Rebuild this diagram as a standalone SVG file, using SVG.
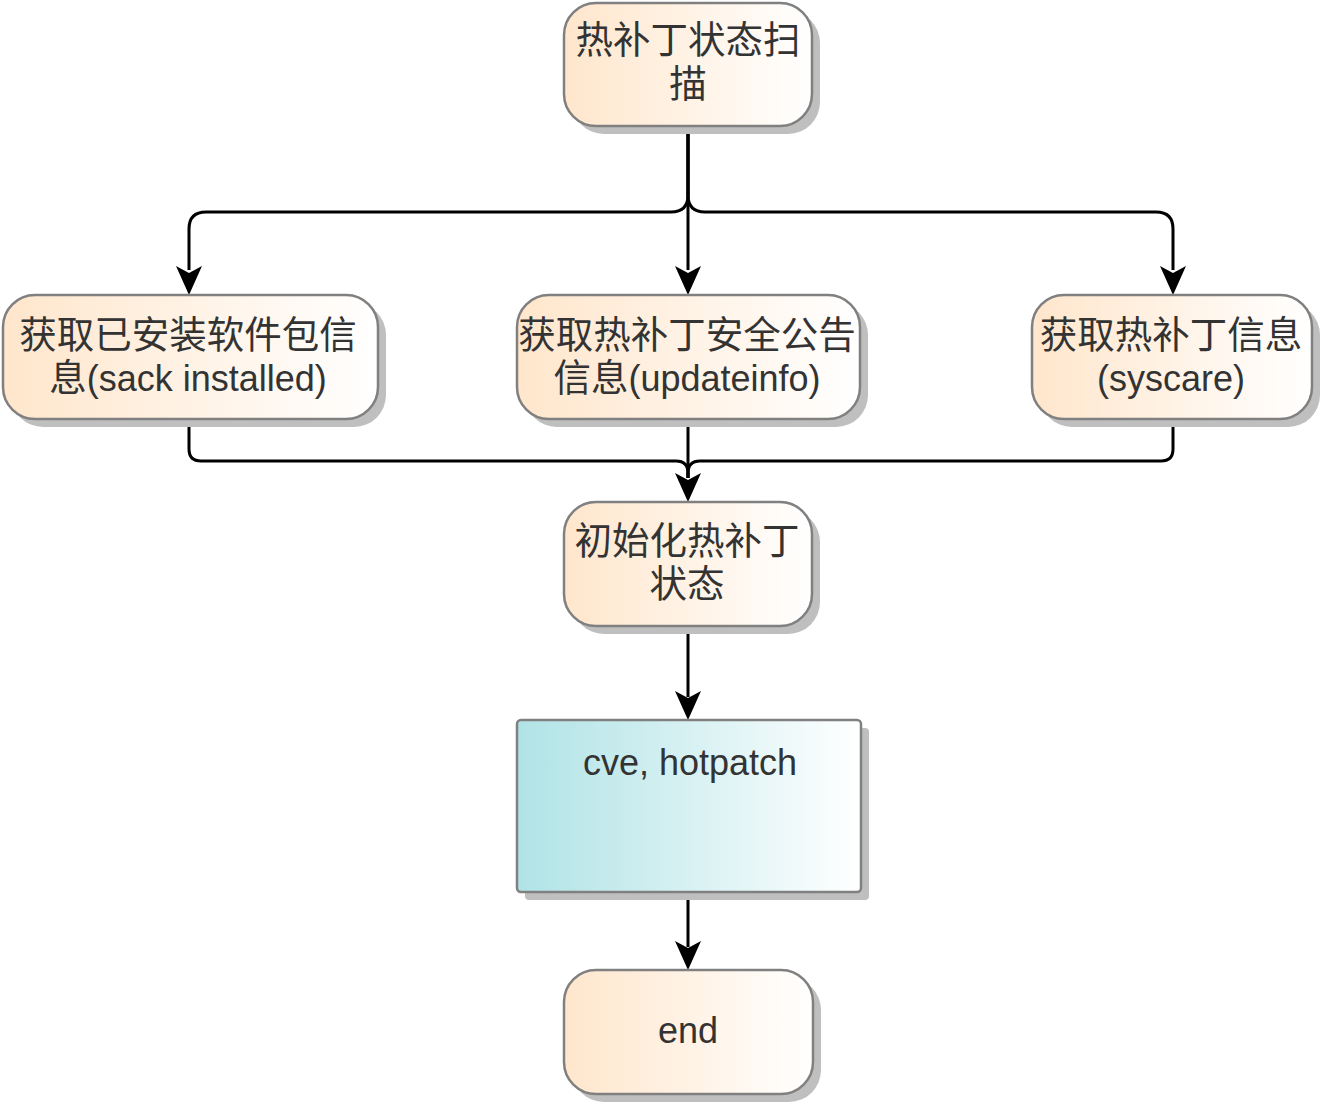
<svg xmlns="http://www.w3.org/2000/svg" width="1325" height="1110" viewBox="0 0 1325 1110">
<defs>
<linearGradient id="gO" x1="0" y1="0" x2="1" y2="0"><stop offset="0" stop-color="#FFE6CC"/><stop offset="1" stop-color="#FFFFFF"/></linearGradient>
<linearGradient id="gC" x1="0" y1="0" x2="1" y2="0"><stop offset="0" stop-color="#B0E3E6"/><stop offset="1" stop-color="#FFFFFF"/></linearGradient>
<style>
.sh{fill:#BFBFBF}
.bx{stroke:#808080;stroke-width:2.5}
.t{font-family:"Liberation Sans","Noto Sans CJK SC",sans-serif;font-size:36px;fill:#333333;text-anchor:middle}
.k{font-size:37.5px}
.c{fill:none;stroke:#000;stroke-width:3}
</style>
</defs>
<g id="connectors">
<path class="c" d="M688,127 V195 Q688,212 671,212 H206 Q189,212 189,229 V270"/>
<path class="c" d="M688,127 V270"/>
<path class="c" d="M688,127 V195 Q688,212 705,212 H1156 Q1173,212 1173,229 V270"/>
<path d="M176,266 L189,295 L202,266 L189,273 Z"/>
<path d="M675,266 L688,295 L701,266 L688,273 Z"/>
<path d="M1160,266 L1173,295 L1186,266 L1173,273 Z"/>
<path class="c" d="M189,420 V449 Q189,461 201,461 H676 Q688,461 688,473 V478"/>
<path class="c" d="M688,420 V478"/>
<path class="c" d="M1173,420 V449 Q1173,461 1161,461 H700 Q688,461 688,473 V478"/>
<path d="M675,473 L688,502 L701,473 L688,480 Z"/>
<path class="c" d="M688,626 V697"/>
<path d="M675,691 L688,720 L701,691 L688,698 Z"/>
<path class="c" d="M688,892 V947"/>
<path d="M675,941 L688,970 L701,941 L688,948 Z"/>
</g>
<g id="n1">
<rect class="sh" x="572" y="11" width="248" height="123" rx="32"/>
<rect class="bx" x="564" y="3" width="248" height="123" rx="32" fill="url(#gO)"/>
<text class="t k" x="688" y="53">热补丁状态扫</text>
<text class="t k" x="688" y="97">描</text>
</g>
<g id="n2">
<rect class="sh" x="11" y="303" width="375" height="124" rx="32"/>
<rect class="bx" x="3" y="295" width="375" height="124" rx="32" fill="url(#gO)"/>
<text class="t k" x="188" y="348">获取已安装软件包信</text>
<text class="t" x="188" y="391"><tspan class="k">息</tspan>(sack installed)</text>
</g>
<g id="n3">
<rect class="sh" x="525" y="303" width="343" height="124" rx="32"/>
<rect class="bx" x="517" y="295" width="343" height="124" rx="32" fill="url(#gO)"/>
<text class="t k" x="687" y="348">获取热补丁安全公告</text>
<text class="t" x="687" y="391"><tspan class="k">信息</tspan>(updateinfo)</text>
</g>
<g id="n4">
<rect class="sh" x="1040" y="303" width="280" height="124" rx="32"/>
<rect class="bx" x="1032" y="295" width="280" height="124" rx="32" fill="url(#gO)"/>
<text class="t k" x="1171" y="348">获取热补丁信息</text>
<text class="t" x="1171" y="391">(syscare)</text>
</g>
<g id="n5">
<rect class="sh" x="572" y="510" width="248" height="124" rx="32"/>
<rect class="bx" x="564" y="502" width="248" height="124" rx="32" fill="url(#gO)"/>
<text class="t k" x="687" y="554">初始化热补丁</text>
<text class="t k" x="687" y="597">状态</text>
</g>
<g id="n6">
<rect class="sh" x="525" y="728" width="344" height="172" rx="4"/>
<rect class="bx" x="517" y="720" width="344" height="172" rx="4" fill="url(#gC)"/>
<text class="t" x="690" y="775">cve, hotpatch</text>
</g>
<g id="n7">
<rect class="sh" x="572" y="978" width="249" height="124" rx="32"/>
<rect class="bx" x="564" y="970" width="249" height="124" rx="32" fill="url(#gO)"/>
<text class="t" x="688" y="1043">end</text>
</g>
</svg>
